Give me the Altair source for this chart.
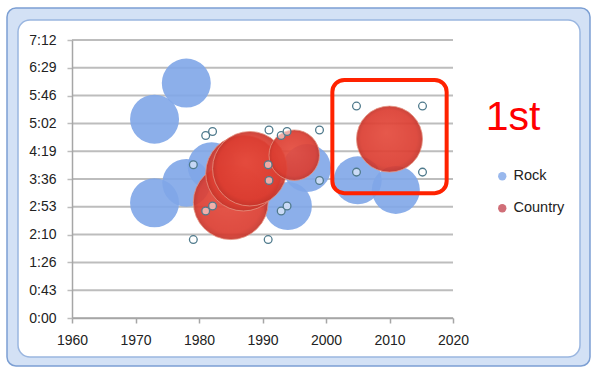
import altair as alt
import pandas as pd

# ---------------- data ----------------
rock_year = [1973, 1978, 1973, 1978, 1982, 1994, 1997, 2005, 2011]
rock_secs = [309, 365, 179, 210, 236, 174, 233, 214, 199]
rock_size = [24, 24, 24, 23, 23, 23, 23, 23, 23]

country_year = [1985, 1987, 1988, 1995, 2010]
country_secs = [180, 225, 232, 253, 278]
country_size = [56, 57, 55.5, 25.5, 43.6]

series_names = ["Rock", "Country"]
x_ticks = [1960, 1970, 1980, 1990, 2000, 2010, 2020]
y_ticks = [0, 43.2, 86.4, 129.6, 172.8, 216, 259.2, 302.4, 345.6, 388.8, 432]

annot_x = [2001, 2019]
annot_y = [194, 370]
annot_label = "1st"

# ---------------- tables ----------------
rock_df = pd.DataFrame({"year": rock_year, "secs": rock_secs, "size": rock_size,
                        "series": series_names[0]})
country_df = pd.DataFrame({"year": country_year, "secs": country_secs,
                           "size": country_size, "series": series_names[1]})
grid_df = pd.DataFrame({"secs": y_ticks})
annot_df = pd.DataFrame({"x1": [annot_x[0]], "x2": [annot_x[1]],
                         "y1": [annot_y[0]], "y2": [annot_y[1]]})
label_df = pd.DataFrame({"t": [annot_label]})
one = pd.DataFrame({"a": [0]})

W, H = 381, 278
XMIN, XMAX, YMAX = 1960, 2020, 432
FONT = "Liberation Sans"
GRID = "#BDBDBD"
AXC = "#A6A6A6"
BLUE = "#80A6E8"
LEG_RED = "#C44A55"

xscale = alt.Scale(domain=[XMIN, XMAX], nice=False, zero=False)
yscale = alt.Scale(domain=[0, YMAX], nice=False)
sscale = alt.Scale(type="linear", domain=[0, 60], range=[0, 6000], zero=True)

xaxis = alt.Axis(values=x_ticks, format="d", title=None, grid=False,
                 tickSize=5, tickColor=AXC, domainColor=AXC, domainWidth=1.5,
                 tickWidth=1.5, labelFontSize=14, labelFont=FONT,
                 labelColor="#222222", labelPadding=10, labelFlush=False,
                 labelOverlap=False, zindex=1)
yaxis = alt.Axis(values=y_ticks, title=None, grid=False,
                 labelExpr="floor(datum.value/60) + ':' + (round(datum.value%60) < 10 ? '0' : '') + round(datum.value%60)",
                 tickSize=5, tickColor=GRID, tickWidth=1.5, domainColor=AXC,
                 domainWidth=1.5, labelFontSize=14, labelFont=FONT,
                 labelColor="#222222", labelPadding=11, labelFlush=False,
                 labelOverlap=False, zindex=1)

# frame of the Excel chart object
frame_outer = alt.Chart(one).mark_rect(
    fill="#D3E1F5", stroke="#7C9FD3", strokeWidth=1.5, cornerRadius=9
).encode(x=alt.value(-65), x2=alt.value(518), y=alt.value(-32), y2=alt.value(326))

frame_inner = alt.Chart(one).mark_rect(
    fill="white", stroke="#9AB6E0", strokeWidth=1.5, cornerRadius=12
).encode(x=alt.value(-54), x2=alt.value(508), y=alt.value(-20), y2=alt.value(317))

gridlines = alt.Chart(grid_df).mark_rule(color=GRID, strokeWidth=2).encode(
    y=alt.Y("secs:Q", scale=yscale, axis=yaxis),
    x=alt.value(0), x2=alt.value(W)
)

rock = alt.Chart(rock_df).mark_circle(opacity=0.9).encode(
    x=alt.X("year:Q", scale=xscale, axis=xaxis),
    y=alt.Y("secs:Q", scale=yscale, axis=yaxis),
    size=alt.Size("size:Q", scale=sscale, legend=None),
    color=alt.Color("series:N",
                    scale=alt.Scale(domain=series_names, range=[BLUE, LEG_RED]),
                    legend=alt.Legend(orient="none", legendX=423, legendY=129,
                                      title=None, labelFontSize=14.5,
                                      labelFont=FONT, labelColor="#222222",
                                      symbolSize=70, symbolType="circle",
                                      rowPadding=17, labelOffset=4, padding=0,
                                      symbolStrokeWidth=0, symbolOpacity=0.8)),
)

red_grad = {
    "gradient": "radial",
    "x1": 0.45, "y1": 0.4, "r1": 0.0,
    "x2": 0.5, "y2": 0.5, "r2": 0.5,
    "stops": [
        {"offset": 0.0, "color": "#E44A3C"},
        {"offset": 0.85, "color": "#DB3D31"},
        {"offset": 1.0, "color": "#C5352B"},
    ],
}

country = alt.Chart(country_df).mark_circle(
    fill=red_grad, fillOpacity=0.92, stroke="#E59482", strokeWidth=1,
    strokeOpacity=0.8
).encode(
    x=alt.X("year:Q", scale=xscale, axis=xaxis),
    y=alt.Y("secs:Q", scale=yscale, axis=yaxis),
    size=alt.Size("size:Q", scale=sscale, legend=None),
)

# selection handles at the corners of each selected (Country) bubble:
# bubble radius in px = sqrt(size*100)/2, converted back to data units
px_per_year = W / (XMAX - XMIN)
px_per_sec = H / YMAX
handles = alt.Chart(country_df).transform_calculate(
    cx="[-1, 1, -1, 1]", cy="[-1, -1, 1, 1]"
).transform_flatten(["cx", "cy"]).transform_calculate(
    hx=f"datum.year + datum.cx * sqrt(datum.size * 100) / 2 / {px_per_year}",
    hy=f"datum.secs + datum.cy * sqrt(datum.size * 100) / 2 / {px_per_sec}",
).mark_point(
    shape="circle", size=60, filled=True, fill="white", fillOpacity=0.55,
    stroke="#4F7A8C", strokeWidth=1.3
).encode(
    x=alt.X("hx:Q", scale=xscale, axis=xaxis),
    y=alt.Y("hy:Q", scale=yscale, axis=yaxis),
)

annot_rect = alt.Chart(annot_df).mark_rect(
    fill="white", fillOpacity=0, stroke="#FF2200", strokeWidth=4, cornerRadius=12
).encode(
    x=alt.X("x1:Q", scale=xscale, axis=xaxis), x2="x2:Q",
    y=alt.Y("y1:Q", scale=yscale, axis=yaxis), y2="y2:Q",
)

annot_text = alt.Chart(label_df).mark_text(
    fontSize=41, font=FONT, color="#FF0000", align="center", baseline="alphabetic"
).encode(text="t:N", x=alt.value(441), y=alt.value(90))

chart = alt.layer(
    frame_outer, frame_inner, gridlines, rock, country, handles, annot_rect, annot_text
).properties(
    width=W, height=H,
    autosize=alt.AutoSizeParams(type="none"),
    padding={"left": 72, "top": 40, "right": 143, "bottom": 57},
    background="white",
).configure_view(strokeWidth=0)

chart.save("out.html", embed_options={"renderer": "svg", "actions": False})
